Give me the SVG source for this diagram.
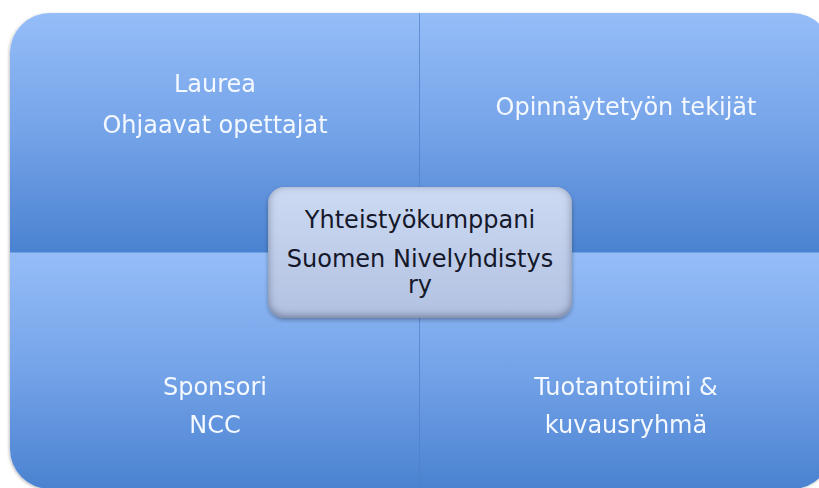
<svg xmlns="http://www.w3.org/2000/svg" width="819" height="488" viewBox="0 0 819 488">
  <defs>
    <linearGradient id="qgrad" x1="0" y1="0" x2="0" y2="1">
      <stop offset="0" stop-color="#95BDF8"/>
      <stop offset="0.5" stop-color="#74A3E8"/>
      <stop offset="1" stop-color="#4A82D1"/>
    </linearGradient>
    <linearGradient id="cgrad" x1="0" y1="0" x2="0" y2="1">
      <stop offset="0" stop-color="#CCDAF3"/>
      <stop offset="1" stop-color="#B2C1E0"/>
    </linearGradient>
    <filter id="qshadow" x="-5%" y="-5%" width="110%" height="110%">
      <feDropShadow dx="-1" dy="1" stdDeviation="1.5" flood-color="#000000" flood-opacity="0.25"/>
    </filter>
    <filter id="cshadow" x="-10%" y="-10%" width="120%" height="130%">
      <feFlood flood-color="#2F3F66" flood-opacity="0.8" result="f"/>
      <feComposite in="f" in2="SourceAlpha" operator="out" result="outside"/>
      <feGaussianBlur in="outside" stdDeviation="4" result="blur"/>
      <feOffset in="blur" dy="-2" result="off"/>
      <feComposite in="off" in2="SourceAlpha" operator="in" result="inner"/>
      <feGaussianBlur in="SourceAlpha" stdDeviation="2" result="ds"/>
      <feOffset in="ds" dy="2" result="dso"/>
      <feComponentTransfer in="dso" result="dsf"><feFuncA type="linear" slope="0.3"/></feComponentTransfer>
      <feMerge>
        <feMergeNode in="dsf"/>
        <feMergeNode in="SourceGraphic"/>
        <feMergeNode in="inner"/>
      </feMerge>
    </filter>
  </defs>
  <style>
    .q { fill: url(#qgrad); }
    .qt { font-family: "DejaVu Sans", sans-serif; font-size: 24px; fill: #F4F8FF; text-anchor: middle; }
    .ct { font-family: "DejaVu Sans", sans-serif; font-size: 24px; fill: #14182A; text-anchor: middle; }
    .div { stroke: #4F7FC8; stroke-width: 1; opacity: 0.7; }
  </style>
  <rect width="819" height="488" fill="#FFFFFF"/>
  <g filter="url(#qshadow)">
    <g id="q-tl">
      <path class="q" d="M10,53 A40,40 0 0 1 50,13 L420,13 L420,253 L10,253 Z"/>
      <text class="qt" x="215" y="92">Laurea</text>
      <text class="qt" x="215" y="133">Ohjaavat opettajat</text>
    </g>
    <g id="q-tr">
      <path class="q" d="M419,13 L792,13 A40,40 0 0 1 832,53 L832,253 L419,253 Z"/>
      <text class="qt" x="626" y="115">Opinnäytetyön tekijät</text>
    </g>
    <g id="q-bl">
      <path class="q" d="M10,252.5 L420,252.5 L420,489 L50,489 A40,40 0 0 1 10,449 Z"/>
      <text class="qt" x="215" y="395">Sponsori</text>
      <text class="qt" x="215" y="433">NCC</text>
    </g>
    <g id="q-br">
      <path class="q" d="M419,252.5 L832,252.5 L832,449 A40,40 0 0 1 792,489 L419,489 Z"/>
      <text class="qt" x="626" y="395">Tuotantotiimi &amp;</text>
      <text class="qt" x="626" y="433">kuvausryhmä</text>
    </g>
  </g>
  <g id="connectors">
    <line class="div" x1="419.5" y1="13" x2="419.5" y2="252"/>
    <line class="div" x1="419.5" y1="253" x2="419.5" y2="489"/>
  </g>
  <g id="center">
    <rect x="268" y="187" width="304" height="131" rx="16" ry="16" fill="url(#cgrad)" filter="url(#cshadow)"/>
    <text class="ct" x="420" y="228">Yhteistyökumppani</text>
    <text class="ct" x="420" y="267">Suomen Nivelyhdistys</text>
    <text class="ct" x="420" y="293">ry</text>
  </g>
</svg>
